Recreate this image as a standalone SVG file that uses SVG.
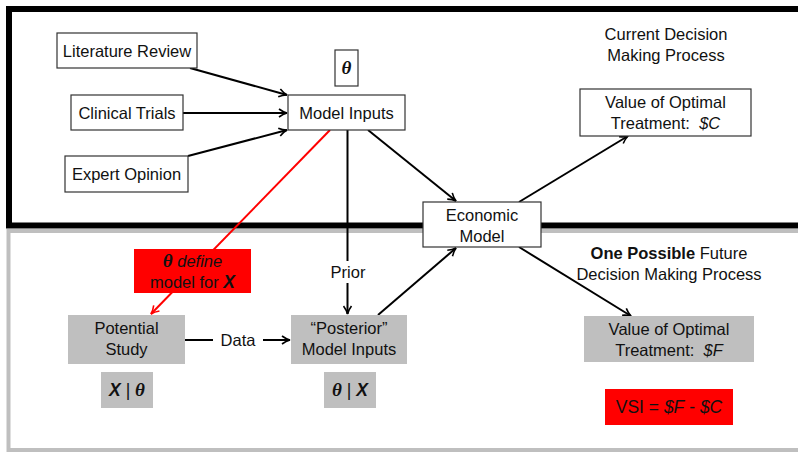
<svg xmlns="http://www.w3.org/2000/svg" width="798" height="452" viewBox="0 0 798 452">
<defs>
<marker id="ah" viewBox="0 0 10 10" refX="9" refY="5" markerWidth="10" markerHeight="10" markerUnits="userSpaceOnUse" orient="auto">
<path d="M1,1 Q5,4 9,5 Q5,6 1,9" fill="none" stroke="#000" stroke-width="1.6"/>
</marker>
<marker id="ahr" viewBox="0 0 10 10" refX="9" refY="5" markerWidth="10" markerHeight="10" markerUnits="userSpaceOnUse" orient="auto">
<path d="M1,1 Q5,4 9,5 Q5,6 1,9" fill="none" stroke="#f00" stroke-width="1.6"/>
</marker>
</defs>
<style>
text{font-family:"Liberation Sans","DejaVu Sans",sans-serif;font-size:16.5px;fill:#111;text-anchor:middle}
.w{fill:#fff;stroke:#333;stroke-width:1.2}
.g{fill:#bfbfbf;stroke:none}
.r{fill:#f00;stroke:none}
.c{stroke:#000;stroke-width:2;fill:none;marker-end:url(#ah)}
.i{font-style:italic}
.b{font-weight:bold}
.m{font-size:17.5px}
.t{font-family:"Liberation Serif","DejaVu Serif",serif;font-style:italic;font-weight:bold;font-size:19px}
</style>
<rect width="798" height="452" fill="#fff"/>
<rect x="8.5" y="231" width="800" height="219" fill="none" stroke="#bfbfbf" stroke-width="4"/>
<rect x="9" y="9" width="800" height="216.5" fill="none" stroke="#000" stroke-width="6"/>

<g id="connectors">
<line class="c" x1="190" y1="68" x2="287" y2="95"/>
<line class="c" x1="183" y1="113" x2="287" y2="113"/>
<line class="c" x1="188" y1="156" x2="287" y2="130"/>
<line class="c" x1="368" y1="130" x2="456" y2="201"/>
<line class="c" x1="519" y1="202" x2="628" y2="136"/>
<line class="c" x1="347.5" y1="130" x2="347.5" y2="314"/>
<line class="c" x1="378" y1="315" x2="456" y2="248"/>
<line class="c" x1="519" y1="247" x2="631" y2="316"/>
<line class="c" x1="185" y1="340" x2="290" y2="340"/>
<line x1="330" y1="130" x2="151" y2="314" stroke="#f00" stroke-width="2" marker-end="url(#ahr)"/>
<rect x="330" y="261" width="36" height="22" fill="#fff"/>
<text x="348" y="278">Prior</text>
<rect x="213" y="329" width="50" height="22" fill="#fff"/>
<text x="238" y="346">Data</text>
</g>

<g id="lit"><rect class="w" x="57" y="33" width="140" height="35"/><text x="127" y="57">Literature Review</text></g>
<g id="clin"><rect class="w" x="71" y="95" width="112" height="35"/><text x="127" y="119">Clinical Trials</text></g>
<g id="expert"><rect class="w" x="65" y="156" width="123" height="36"/><text x="126.5" y="180">Expert Opinion</text></g>
<g id="theta"><rect class="w" x="335" y="50" width="23" height="36"/><text x="346.5" y="74" class="t">θ</text></g>
<g id="modelinputs"><rect class="w" x="288" y="95" width="117" height="35"/><text x="346.5" y="119">Model Inputs</text></g>
<g id="econ"><rect class="w" x="423" y="202" width="118" height="45"/><text x="482" y="221">Economic</text><text x="482" y="242">Model</text></g>
<g id="valc"><rect class="w" x="580" y="89" width="171" height="47"/><text x="665.5" y="108">Value of Optimal</text><text x="665.5" y="129">Treatment:&#160; <tspan class="i">$C</tspan></text></g>
<g id="current"><text x="666" y="40">Current Decision</text><text x="666" y="61">Making Process</text></g>
<g id="future"><text x="669" y="259"><tspan class="b">One Possible</tspan> Future</text><text x="669" y="280">Decision Making Process</text></g>
<g id="redlabel"><rect class="r" x="134" y="249" width="117" height="44"/><text x="192.5" y="267"><tspan class="t">θ</tspan>&#160;<tspan class="i">define</tspan></text><text x="192.5" y="288">model for <tspan class="i b m">X</tspan></text></g>
<g id="study"><rect class="g" x="68" y="315" width="117" height="49"/><text x="126.5" y="334">Potential</text><text x="126.5" y="355">Study</text></g>
<g id="posterior"><rect class="g" x="291" y="315" width="116" height="49"/><text x="349" y="334">“Posterior”</text><text x="349" y="355">Model Inputs</text></g>
<g id="xgt"><rect class="g" x="101" y="372" width="52" height="36"/><text x="127" y="396" class="m"><tspan class="i b">X</tspan> | <tspan class="t">θ</tspan></text></g>
<g id="tgx"><rect class="g" x="324" y="372" width="52" height="36"/><text x="350" y="396" class="m"><tspan class="t">θ</tspan> | <tspan class="i b">X</tspan></text></g>
<g id="valf"><rect class="g" x="584" y="316" width="170" height="46"/><text x="669" y="335">Value of Optimal</text><text x="669" y="356">Treatment:&#160; <tspan class="i">$F</tspan></text></g>
<g id="vsi"><rect class="r" x="605" y="389" width="128" height="36"/><text x="669" y="413" class="m">VSI = <tspan class="i">$F</tspan> - <tspan class="i">$C</tspan></text></g>
</svg>
